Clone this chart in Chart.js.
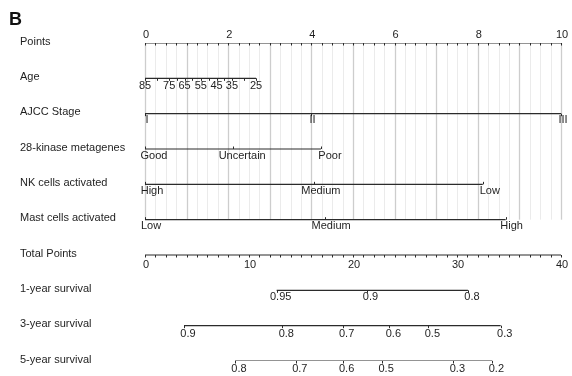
<!DOCTYPE html>
<html>
<head>
<meta charset="utf-8">
<script src="https://cdn.jsdelivr.net/npm/chart.js@4"></script>
<style>
  html, body { margin: 0; padding: 0; background: #ffffff; }
  #wrap { width: 572px; height: 376px; }
</style>
</head>
<body>
<div id="wrap"><canvas id="nomo" width="572" height="376"></canvas></div>
<script>
// ---- Nomogram content ----
const rowNames = ['Points', 'Age', 'AJCC Stage', '28-kinase metagenes', 'NK cells activated',
  'Mast cells activated', 'Total Points', '1-year survival', '3-year survival', '5-year survival'];

// Points scale (0-10), labelled every 2
const pointsLabels = [0, 2, 4, 6, 8, 10];

// Age (years) and the points each age contributes
const ageYears  = [85, 80, 75, 70, 65, 60, 55, 50, 45, 40, 35, 30, 25];
const agePoints = [0, 0.29, 0.58, 0.77, 0.95, 1.14, 1.34, 1.53, 1.72, 1.90, 2.09, 2.38, 2.67];
const ageLabelled = [85, 75, 65, 55, 45, 35, 25];

// Categorical predictors
const stageLevels  = ['I', 'II', 'III'];
const stagePoints  = [0, 3.98, 10];
const kinaseLevels = ['Good', 'Uncertain', 'Poor'];
const kinasePoints = [0, 2.12, 4.23];
const nkLevels     = ['High', 'Medium', 'Low'];
const nkPoints     = [0, 4.06, 8.12];
const mastLevels   = ['Low', 'Medium', 'High'];
const mastPoints   = [0, 4.33, 8.67];

// Total points scale (0-40), labelled every 10
const totalLabels = [0, 10, 20, 30, 40];

// Survival probabilities and the total points where they sit
const surv1Probs = [0.95, 0.9, 0.8];
const surv1Total = [12.66, 21.3, 31.05];
const surv3Probs = [0.9, 0.8, 0.7, 0.6, 0.5, 0.3];
const surv3Total = [3.75, 13.2, 19.0, 23.5, 27.25, 34.2];
const surv5Probs = [0.8, 0.7, 0.6, 0.5, 0.3, 0.2];
const surv5Total = [8.65, 14.5, 19.0, 22.8, 29.65, 33.4];

// ---- Axis descriptions built from the arrays above ----
const FONT = '11px "Liberation Sans", Arial, sans-serif';
const INK = '#1e1e1e';
const LINE = '#2b2b2b';

function seq(a, b, step) { const out = []; for (let v = a; v <= b + 1e-9; v += step) out.push(+v.toFixed(4)); return out; }

const axes = [
  { row: 0, scale: 'x', line: [0, 10], ticks: seq(0, 10, 0.25), tickDir: 1,
    labels: pointsLabels.map(v => ({ at: v, text: String(v) })), dy: -8.5, dx: 1 },
  { row: 1, scale: 'x', line: [agePoints[0], agePoints[agePoints.length - 1]], ticks: agePoints, tickDir: 1,
    labels: ageLabelled.map(a => ({ at: agePoints[ageYears.indexOf(a)], text: String(a) })), dy: 8, dx: 0 },
  { row: 2, scale: 'x', line: [stagePoints[0], stagePoints[2]], ticks: stagePoints, tickDir: 1,
    labels: stageLevels.map((t, i) => ({ at: stagePoints[i], text: t })), dy: 6.5, dx: 2 },
  { row: 3, scale: 'x', line: [kinasePoints[0], kinasePoints[2]], ticks: kinasePoints, tickDir: -1,
    labels: kinaseLevels.map((t, i) => ({ at: kinasePoints[i], text: t })), dy: 6.5, dx: 9 },
  { row: 4, scale: 'x', line: [nkPoints[0], nkPoints[2]], ticks: nkPoints, tickDir: -1,
    labels: nkLevels.map((t, i) => ({ at: nkPoints[i], text: t })), dy: 6.5, dx: 7 },
  { row: 5, scale: 'x', line: [mastPoints[0], mastPoints[2]], ticks: mastPoints, tickDir: -1,
    labels: mastLevels.map((t, i) => ({ at: mastPoints[i], text: t })), dy: 6.5, dx: 6 },
  { row: 6, scale: 'xt', line: [0, 40], ticks: seq(0, 40, 1), tickDir: 1,
    labels: totalLabels.map(v => ({ at: v, text: String(v) })), dy: 10, dx: 1 },
  { row: 7, scale: 'xt', line: [surv1Total[0], surv1Total[surv1Total.length - 1]], ticks: surv1Total, tickDir: 1,
    labels: surv1Probs.map((p, i) => ({ at: surv1Total[i], text: String(p) })), dy: 7, dx: 4 },
  { row: 8, scale: 'xt', line: [surv3Total[0], surv3Total[surv3Total.length - 1]], ticks: surv3Total, tickDir: 1,
    labels: surv3Probs.map((p, i) => ({ at: surv3Total[i], text: String(p) })), dy: 8, dx: 4 },
  { row: 9, scale: 'xt', line: [surv5Total[0], surv5Total[surv5Total.length - 1]], ticks: surv5Total, tickDir: 1,
    labels: surv5Probs.map((p, i) => ({ at: surv5Total[i], text: String(p) })), dy: 8, dx: 4 }
];

// Each axis line is a two-point line dataset on its own row
const datasets = axes.map(a => ({
  data: [{ x: a.line[0], y: a.row }, { x: a.line[1], y: a.row }],
  xAxisID: a.scale,
  yAxisID: 'y',
  showLine: true,
  borderColor: LINE,
  borderWidth: 1.2,
  pointRadius: 0,
  fill: false
}));

// Vertical reference grid under the predictor rows, every quarter point
const gridPlugin = {
  id: 'nomoGrid',
  beforeDatasetsDraw(chart) {
    const { ctx, scales } = chart;
    const yTop = scales.y.getPixelForValue(0);
    const yBot = scales.y.getPixelForValue(5);
    ctx.save();
    seq(0, 10, 0.25).forEach(v => {
      const major = Math.abs(v - Math.round(v)) < 1e-6;
      const x = Math.round(scales.x.getPixelForValue(v)) + 0.5;
      ctx.strokeStyle = major ? '#cdcdcd' : '#ebebeb';
      ctx.lineWidth = major ? 1.3 : 1;
      ctx.beginPath();
      ctx.moveTo(x, yTop);
      ctx.lineTo(x, yBot);
      ctx.stroke();
    });
    ctx.restore();
  }
};

// Tick marks, tick labels, row names and the panel letter
const labelPlugin = {
  id: 'nomoLabels',
  afterDatasetsDraw(chart) {
    const { ctx, scales } = chart;
    ctx.save();
    ctx.font = FONT;
    ctx.fillStyle = INK;
    axes.forEach(a => {
      const sx = scales[a.scale];
      const y = scales.y.getPixelForValue(a.row);
      ctx.strokeStyle = LINE;
      ctx.lineWidth = 1;
      a.ticks.forEach(t => {
        const x = Math.round(sx.getPixelForValue(t)) + 0.5;
        ctx.beginPath();
        ctx.moveTo(x, y);
        ctx.lineTo(x, y + a.tickDir * 2.5);
        ctx.stroke();
      });
      ctx.textAlign = 'center';
      ctx.textBaseline = 'middle';
      a.labels.forEach(l => {
        ctx.fillText(l.text, sx.getPixelForValue(l.at) + a.dx, y + a.dy);
      });
    });
    // row names
    ctx.textAlign = 'left';
    ctx.textBaseline = 'middle';
    rowNames.forEach((name, i) => {
      ctx.fillText(name, 20, scales.y.getPixelForValue(i) - 1.5);
    });
    // panel letter
    ctx.font = 'bold 18px "Liberation Sans", Arial, sans-serif';
    ctx.fillStyle = '#111';
    ctx.textBaseline = 'alphabetic';
    ctx.fillText('B', 9, 25);
    ctx.restore();
  }
};

new Chart(document.getElementById('nomo'), {
  type: 'scatter',
  data: { datasets },
  options: {
    responsive: false,
    animation: false,
    layout: { padding: { left: 145, right: 11, top: 43, bottom: 15 } },
    scales: {
      x:  { type: 'linear', axis: 'x', min: 0, max: 10, display: false },
      xt: { type: 'linear', axis: 'x', min: 0, max: 40, display: false },
      y:  { type: 'linear', min: 0, max: 9, reverse: true, display: false }
    },
    plugins: { legend: { display: false }, tooltip: { enabled: false } },
    events: []
  },
  plugins: [gridPlugin, labelPlugin]
});
</script>
</body>
</html>
